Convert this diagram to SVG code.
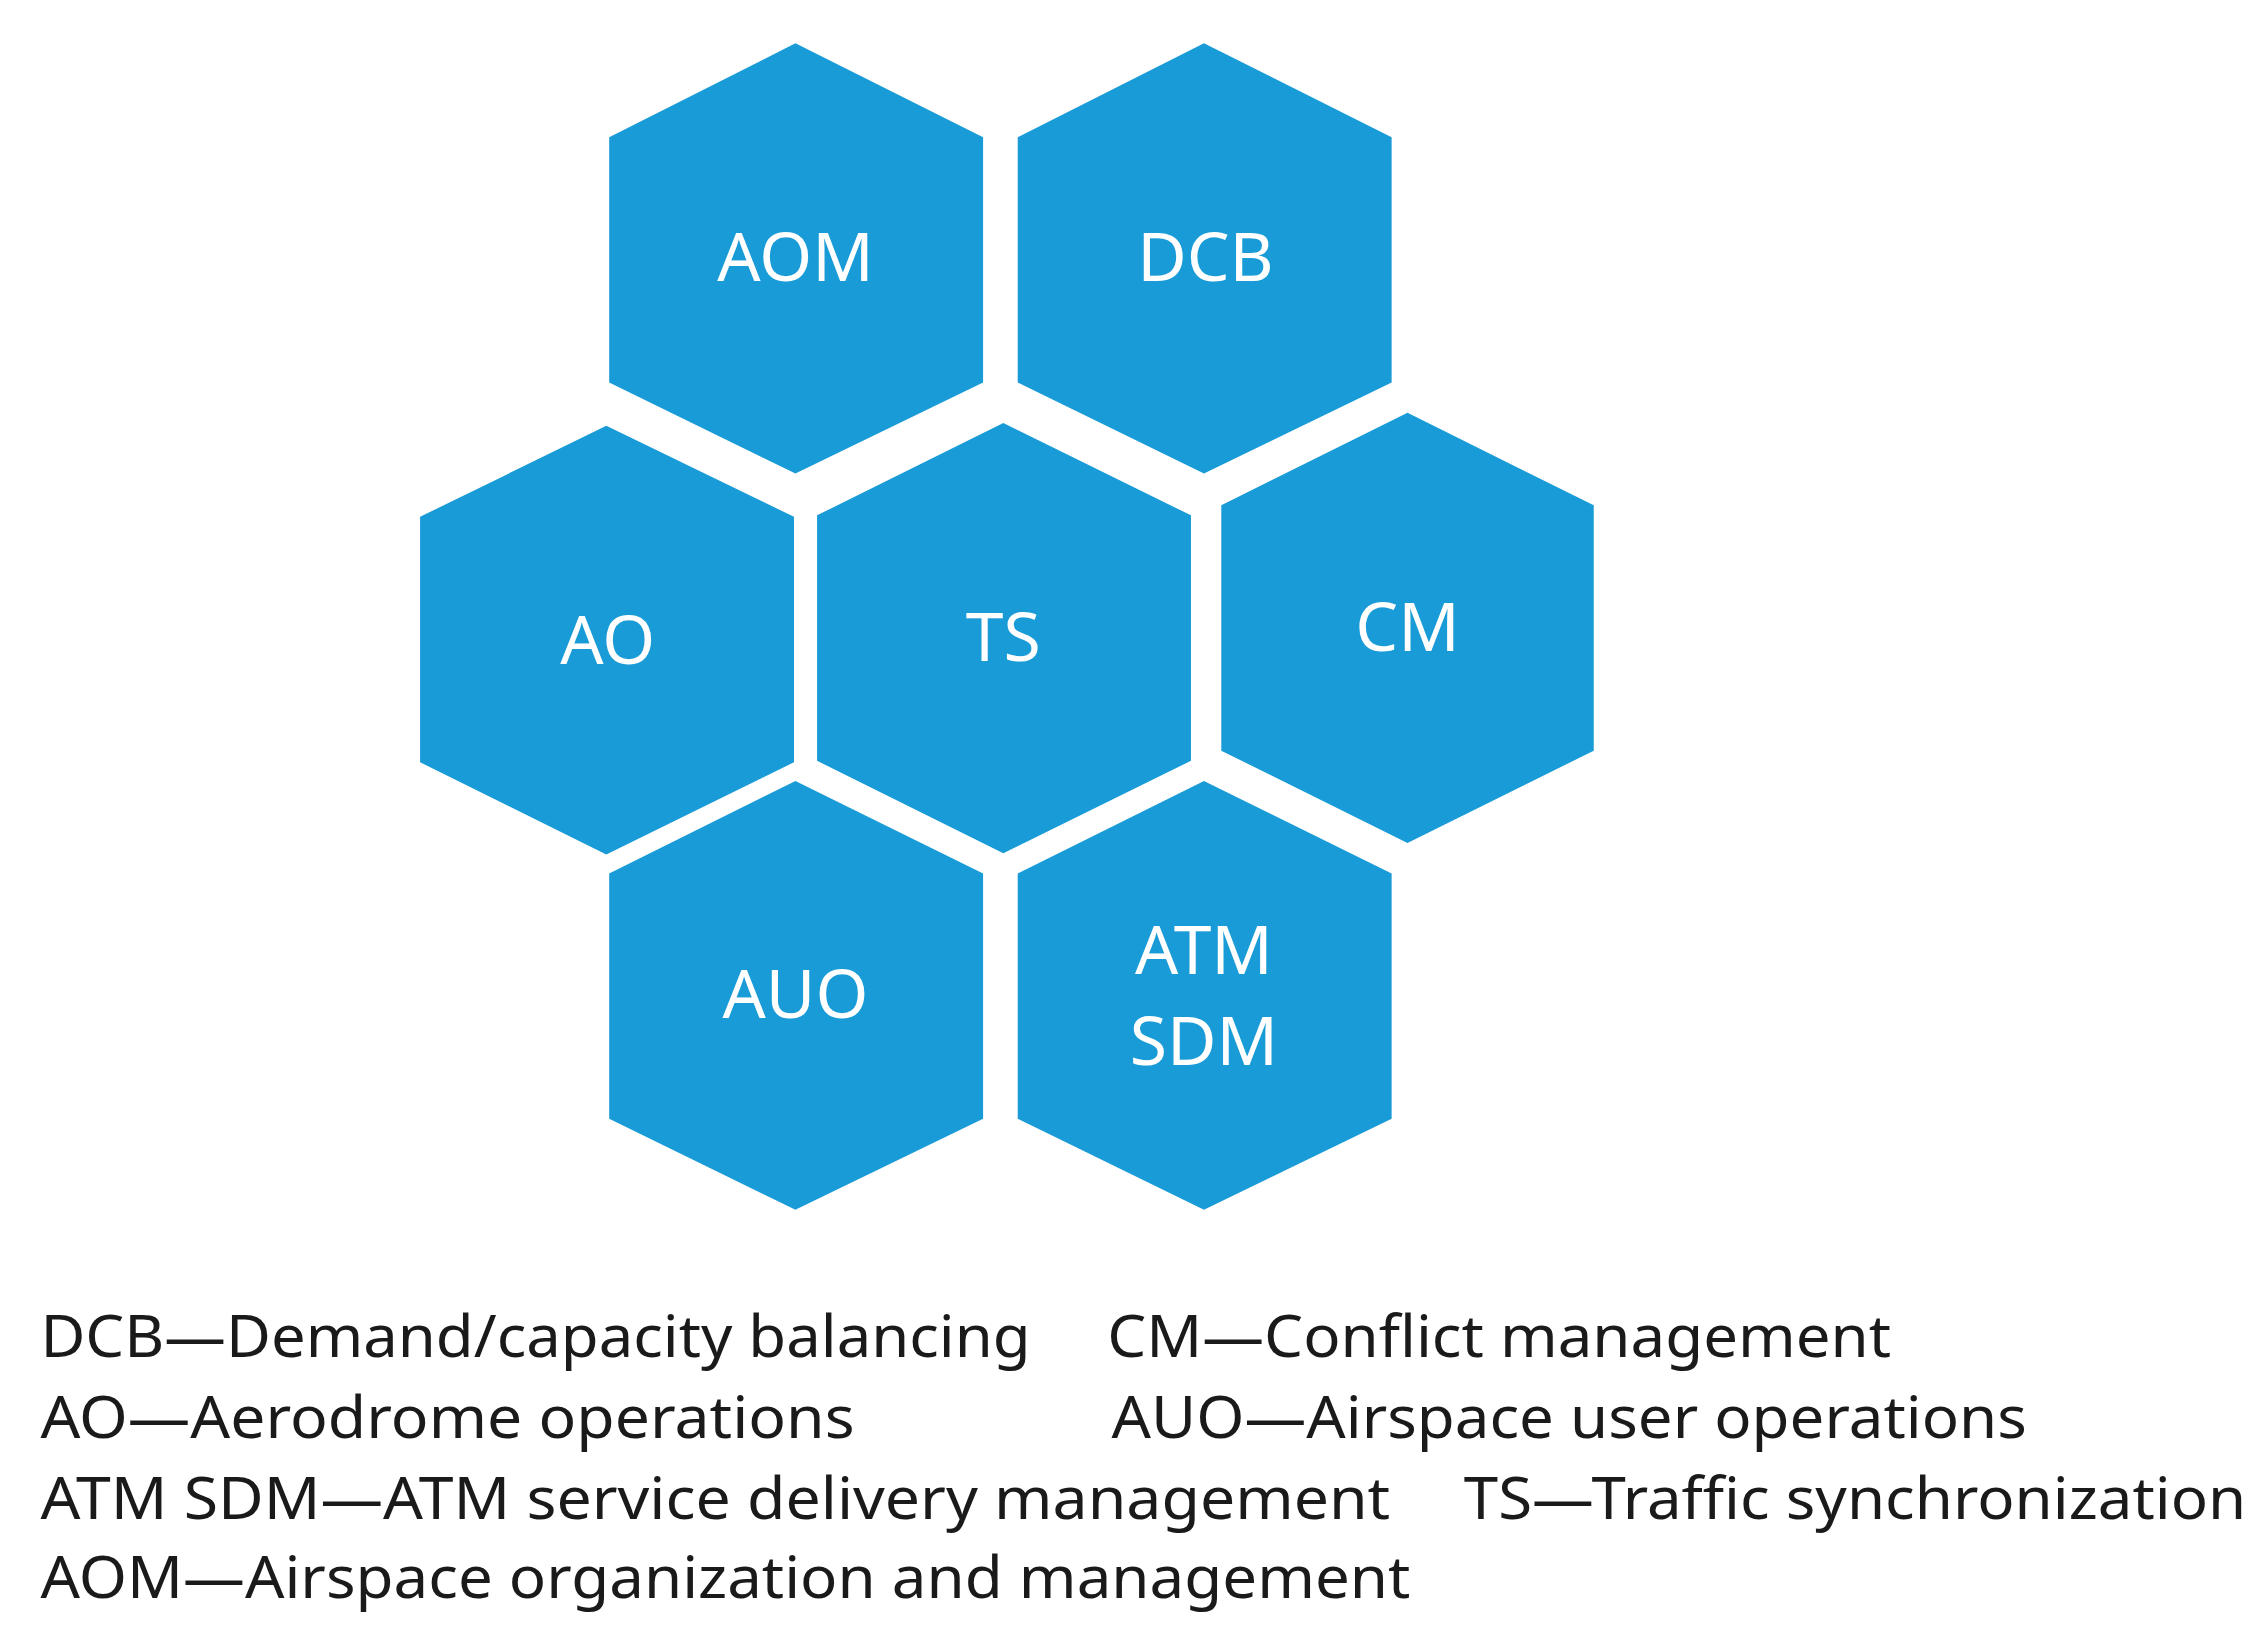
<svg xmlns="http://www.w3.org/2000/svg" width="2252" height="1632" viewBox="0 0 2252 1632">
<style>
.hex{fill:#189bd7}
.hl{font-family:"Noto Sans","DejaVu Sans",sans-serif;font-size:47px;fill:#fff;text-anchor:middle}
.lg{font-family:"Noto Sans","DejaVu Sans",sans-serif;font-size:41px;fill:#1a1a1a}
</style>
<rect width="2252" height="1632" fill="#fff"/>
<g transform="scale(1.4436)">
<g id="AOM"><polygon class="hex" points="551,30 681,95 681,265 551,328 422,265 422,95"/><text class="hl" x="551" y="195">AOM</text></g>
<g id="DCB"><polygon class="hex" points="834,30 964,95 964,265 834,328 705,265 705,95"/><text class="hl" x="835" y="195">DCB</text></g>
<g id="AO"><polygon class="hex" points="420,295 550,358 550,528 420,592 291,528 291,358"/><text class="hl" x="421" y="460">AO</text></g>
<g id="TS"><polygon class="hex" points="695,293 825,357 825,527 695,591 566,527 566,357"/><text class="hl" x="695" y="458">TS</text></g>
<g id="CM"><polygon class="hex" points="975,286 1104,350 1104,520 975,584 846,520 846,350"/><text class="hl" x="975" y="451">CM</text></g>
<g id="AUO"><polygon class="hex" points="551,541 681,605 681,775 551,838 422,775 422,605"/><text class="hl" x="551" y="705">AUO</text></g>
<g id="ATMSDM"><polygon class="hex" points="834,541 964,605 964,775 834,838 705,775 705,605"/><text class="hl" x="834" y="675">ATM</text><text class="hl" x="834" y="738">SDM</text></g>
<g id="connectors"/>
<g id="legend">
<text class="lg" x="28" y="940" textLength="686" lengthAdjust="spacingAndGlyphs">DCB—Demand/capacity balancing</text>
<text class="lg" x="767" y="940" textLength="543" lengthAdjust="spacingAndGlyphs">CM—Conflict management</text>
<text class="lg" x="28" y="996" textLength="564" lengthAdjust="spacingAndGlyphs">AO—Aerodrome operations</text>
<text class="lg" x="770" y="996" textLength="634" lengthAdjust="spacingAndGlyphs">AUO—Airspace user operations</text>
<text class="lg" x="28" y="1052" textLength="935" lengthAdjust="spacingAndGlyphs">ATM SDM—ATM service delivery management</text>
<text class="lg" x="1014" y="1052" textLength="542" lengthAdjust="spacingAndGlyphs">TS—Traffic synchronization</text>
<text class="lg" x="28" y="1107" textLength="949" lengthAdjust="spacingAndGlyphs">AOM—Airspace organization and management</text>
</g>
</g>
</svg>
